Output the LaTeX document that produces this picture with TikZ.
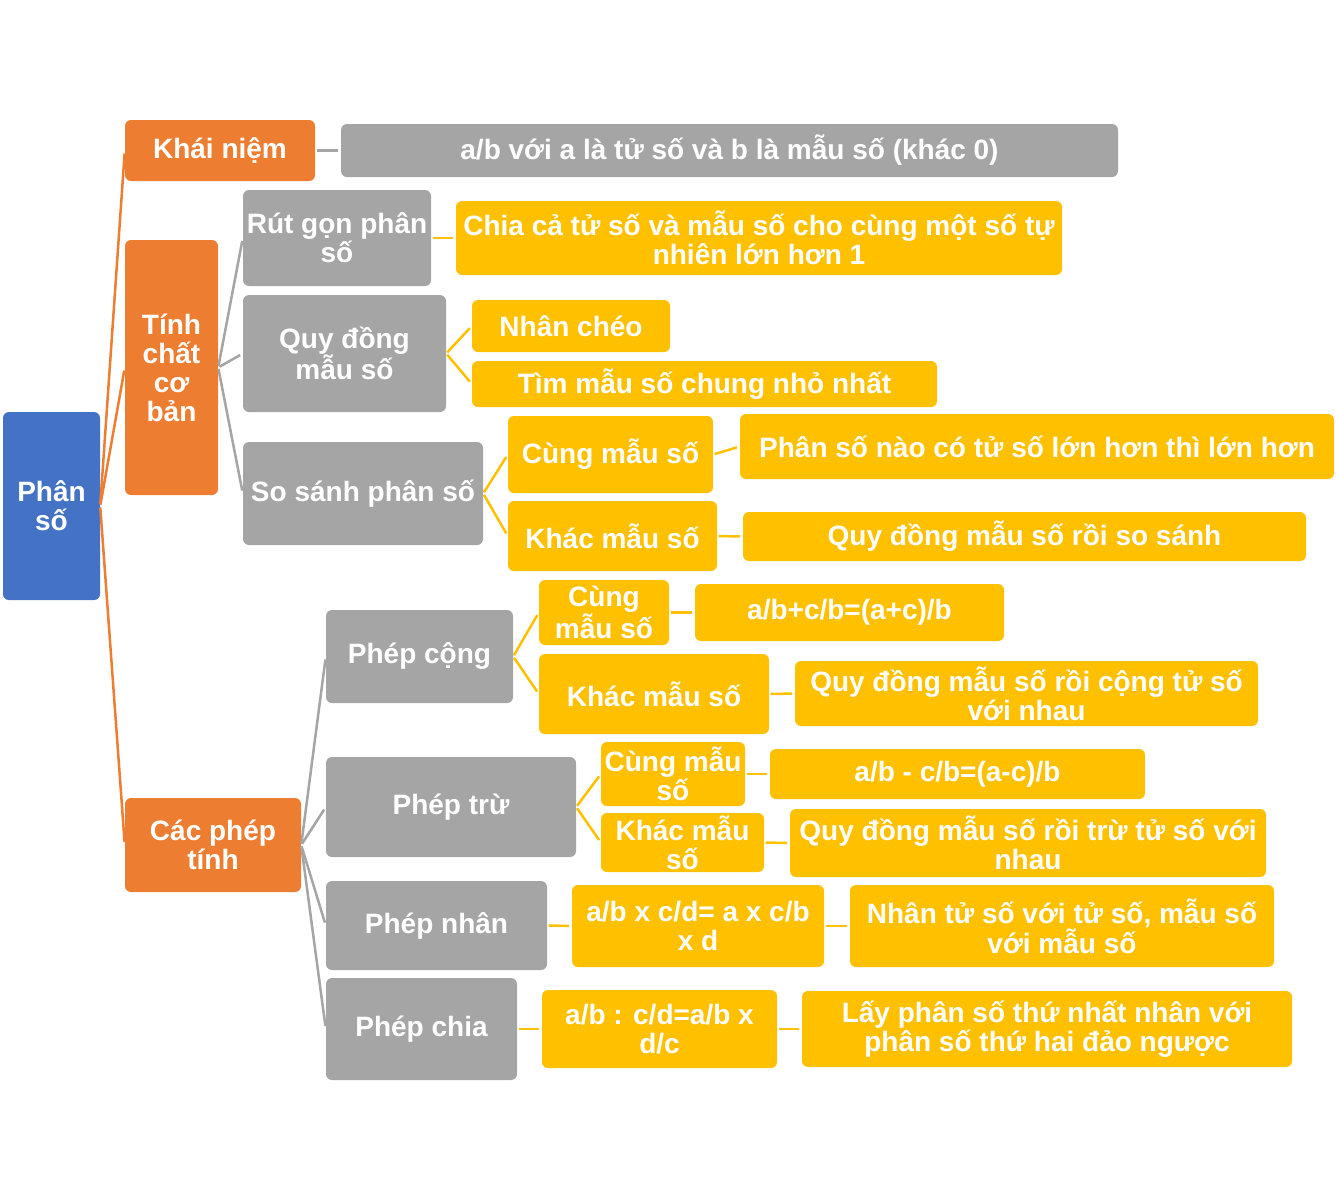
\documentclass[tikz,border=0pt]{standalone}
\usepackage{fontspec}
\setmainfont{Liberation Sans}
\definecolor{myblue}{RGB}{68,114,196}
\definecolor{myorange}{RGB}{237,125,49}
\definecolor{mygray}{RGB}{165,165,165}
\definecolor{myyellow}{RGB}{255,192,0}
\tikzset{
  mapbox/.style={rectangle, rounded corners=6pt, inner sep=1pt, align=center,
    text=white, font=\fontsize{28}{29}\selectfont\bfseries},
  rootbox/.style={mapbox, fill=myblue},
  mainbox/.style={mapbox, fill=myorange},
  subbox/.style={mapbox, fill=mygray},
  leafbox/.style={mapbox, fill=myyellow},
  wh/.style 2 args={minimum width=#1pt, minimum height=#2pt},
  link/.style={line width=2.5pt, shorten <=1.5pt, shorten >=3pt},
  orline/.style={link, draw=myorange},
  grline/.style={link, draw=mygray},
  yeline/.style={link, draw=myyellow}
}

\begin{document}
\begin{tikzpicture}[x=1pt, y=-1pt]
  \useasboundingbox (0,0) rectangle (1337,1200);

  % Root and main branches
  \node[rootbox, wh={97}{188}] (phanso) at (51.5, 506) {Phân\\số};
  \node[mainbox, wh={190}{61}] (khainiem) at (220, 150.5) {Khái niệm};
  \node[mainbox, wh={93}{255}] (tinhchat) at (171.5, 367.5) {Tính\\chất\\cơ\\bản};
  \node[mainbox, wh={176}{94}] (cacphep) at (213, 845) {Các phép\\tính};

  % Khai niem
  \node[subbox, wh={777}{53}] (dinhnghia) at (729.5, 150.5) {a/b với a là tử số và b là mẫu số (khác 0)};

  % Tinh chat co ban
  \node[subbox, wh={188}{96}] (rutgon) at (337, 238) {Rút gọn phân\\số};
  \node[subbox, wh={203}{117}] (quydong) at (344.5, 353.5) {Quy đồng\\mẫu số};
  \node[subbox, wh={240}{103}] (sosanh) at (363, 493.5) {So sánh phân số};

  \node[leafbox, wh={606}{74}] (chiaca) at (759, 238) {Chia cả tử số và mẫu số cho cùng một số tự\\nhiên lớn hơn 1};
  \node[leafbox, wh={198}{52}] (nhancheo) at (571, 326) {Nhân chéo};
  \node[leafbox, wh={465}{46}] (timmau) at (704.5, 384) {Tìm mẫu số chung nhỏ nhất};
  \node[leafbox, wh={205}{77}] (sscung) at (610.5, 454.5) {Cùng mẫu số};
  \node[leafbox, wh={209}{70}] (sskhac) at (612.5, 536) {Khác mẫu số};
  \node[leafbox, wh={594}{65}] (sscungqt) at (1037, 446.5) {Phân số nào có tử số lớn hơn thì lớn hơn};
  \node[leafbox, wh={563}{49}] (sskhacqt) at (1024.5, 536.5) {Quy đồng mẫu số rồi so sánh};

  % Cac phep tinh
  \node[subbox, wh={187}{93}] (phepcong) at (419.5, 656.5) {Phép cộng};
  \node[subbox, wh={250}{100}] (pheptru) at (451, 807) {Phép trừ};
  \node[subbox, wh={221}{89}] (phepnhan) at (436.5, 925.5) {Phép nhân};
  \node[subbox, wh={191}{102}] (phepchia) at (421.5, 1029) {Phép chia};

  \node[leafbox, wh={130}{65}] (congcung) at (604, 612.5) {Cùng\\mẫu số};
  \node[leafbox, wh={230}{80}] (congkhac) at (654, 694) {Khác mẫu số};
  \node[leafbox, wh={309}{57}] (congcungqt) at (849.5, 612.5) {a/b+c/b=(a+c)/b};
  \node[leafbox, wh={463}{65}] (congkhacqt) at (1026.5, 693.5) {Quy đồng mẫu số rồi cộng tử số\\với nhau};

  \node[leafbox, wh={144}{64}] (trucung) at (673, 774) {Cùng mẫu\\số};
  \node[leafbox, wh={163}{59}] (trukhac) at (682.5, 842.5) {Khác mẫu\\số};
  \node[leafbox, wh={375}{50}] (trucungqt) at (957.5, 774) {a/b - c/b=(a-c)/b};
  \node[leafbox, wh={476}{68}] (trukhacqt) at (1028, 843) {Quy đồng mẫu số rồi trừ tử số với\\nhau};

  \node[leafbox, wh={252}{82}] (nhanct) at (698, 926) {a/b x c/d= a x c/b\\x d};
  \node[leafbox, wh={424}{82}] (nhanqt) at (1062, 926) {Nhân tử số với tử số, mẫu số\\với mẫu số};
  \node[leafbox, wh={235}{78}] (chiact) at (659.5, 1029) {a/b : c/d=a/b x\\d/c};
  \node[leafbox, wh={490}{76}] (chiaqt) at (1047, 1029) {Lấy phân số thứ nhất nhân với\\phân số thứ hai đảo ngược};

  % Connectors
  \foreach \b in {khainiem, tinhchat, cacphep}
    \draw[orline] (phanso.east) -- (\b.west);
  \draw[grline] (khainiem.east) -- (dinhnghia.west);
  \foreach \b in {rutgon, quydong, sosanh}
    \draw[grline] (tinhchat.east) -- (\b.west);
  \foreach \b in {phepcong, pheptru, phepnhan, phepchia}
    \draw[grline] (cacphep.east) -- (\b.west);

  \draw[yeline] (rutgon.east) -- (chiaca.west);
  \draw[yeline] (quydong.east) -- (nhancheo.west);
  \draw[yeline] (quydong.east) -- (timmau.west);
  \draw[yeline] (sosanh.east) -- (sscung.west);
  \draw[yeline] (sosanh.east) -- (sskhac.west);
  \draw[yeline] (sscung.east) -- (sscungqt.west);
  \draw[yeline] (sskhac.east) -- (sskhacqt.west);

  \draw[yeline] (phepcong.east) -- (congcung.west);
  \draw[yeline] (phepcong.east) -- (congkhac.west);
  \draw[yeline] (congcung.east) -- (congcungqt.west);
  \draw[yeline] (congkhac.east) -- (congkhacqt.west);
  \draw[yeline] (pheptru.east) -- (trucung.west);
  \draw[yeline] (pheptru.east) -- (trukhac.west);
  \draw[yeline] (trucung.east) -- (trucungqt.west);
  \draw[yeline] (trukhac.east) -- (trukhacqt.west);
  \draw[yeline] (phepnhan.east) -- (nhanct.west);
  \draw[yeline] (nhanct.east) -- (nhanqt.west);
  \draw[yeline] (phepchia.east) -- (chiact.west);
  \draw[yeline] (chiact.east) -- (chiaqt.west);
\end{tikzpicture}
\end{document}
